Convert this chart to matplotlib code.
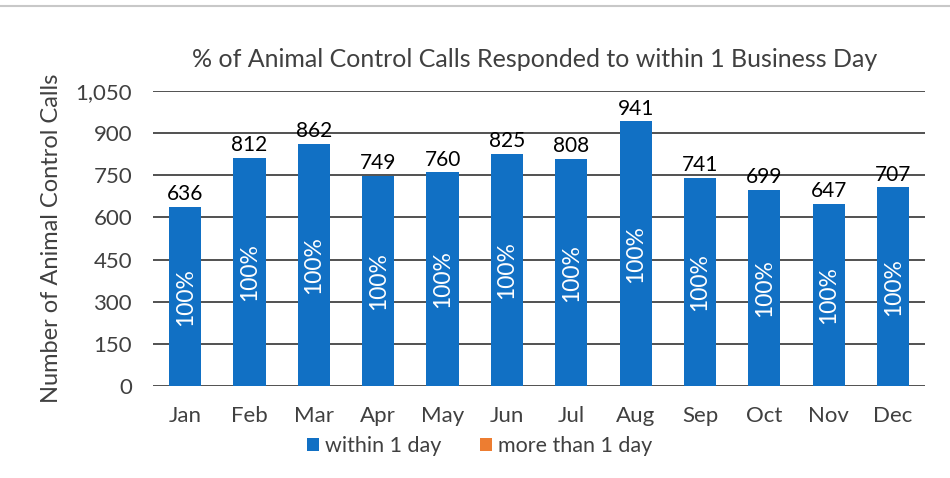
import matplotlib
matplotlib.use('Agg')
import matplotlib.pyplot as plt
import numpy as np

# data
months = ['Jan', 'Feb', 'Mar', 'Apr', 'May', 'Jun', 'Jul', 'Aug', 'Sep', 'Oct', 'Nov', 'Dec']
within_1_day = [636, 812, 862, 749, 760, 825, 808, 941, 741, 699, 647, 707]
more_than_1_day = [0, 0, 0, 0, 0, 0, 0, 0, 0, 0, 0, 0]
pct_labels = ['100%'] * 12
y_ticks = [0, 150, 300, 450, 600, 750, 900, 1050]

plt.rcParams['font.family'] = ['Lato', 'DejaVu Sans']

blue = '#1170c4'
orange = '#ed7d31'
grey = '#404040'

fig = plt.figure(figsize=(9.5, 4.78), dpi=100)
ax = fig.add_axes([0.161, 0.192, 0.813, 0.618])

x = np.arange(len(months))
b1 = ax.bar(x, within_1_day, width=0.5, color=blue, label='within 1 day', zorder=3)
b2 = ax.bar(x, more_than_1_day, width=0.5, bottom=within_1_day, color=orange,
            label='more than 1 day', zorder=3)

# value labels above bars and percentage labels inside
for xi, v, p in zip(x, within_1_day, pct_labels):
    ax.text(xi, v + 10, str(v), ha='center', va='bottom', fontsize=15, color='black')
    ax.text(xi, v / 2, p, ha='center', va='center', rotation=90, fontsize=16.5, color='white')

ax.set_xlim(-0.5, len(months) - 0.5)
ax.set_ylim(0, 1050)
ax.set_yticks(y_ticks)
ax.set_yticklabels([f'{t:,}' for t in y_ticks])
ax.set_xticks(x)
ax.set_xticklabels(months)
ax.tick_params(axis='both', length=0, labelsize=16, colors=grey)
ax.tick_params(axis='x', pad=14)
ax.tick_params(axis='y', pad=15)
ax.grid(axis='y', color='#333333', linewidth=1.2, zorder=0)
for s in ax.spines.values():
    s.set_visible(False)

ax.set_ylabel('Number of Animal Control Calls', fontsize=17, color=grey, labelpad=10)
fig.text(0.563, 0.875, '% of Animal Control Calls Responded to within 1 Business Day',
         ha='center', va='center', fontsize=18, color=grey)

fig.legend(handles=[b1, b2], loc='center', bbox_to_anchor=(0.505, 0.066), ncol=2,
           frameon=False, fontsize=15.5, handlelength=0.55, handleheight=0.55,
           handletextpad=0.3, columnspacing=1.8, labelcolor=grey)

# thin grey line along the top edge of the screenshot
fig.add_artist(plt.Line2D([0, 1], [0.988, 0.988], color='#c8c8c8', linewidth=1.5))

fig.savefig('out.png', dpi=100)
